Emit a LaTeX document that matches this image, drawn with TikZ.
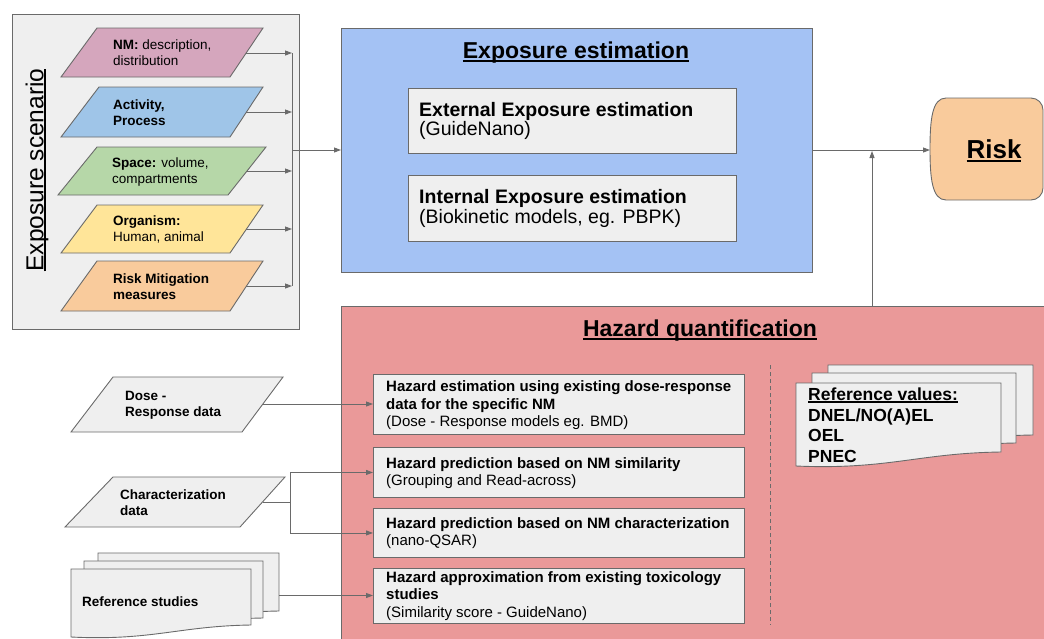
\documentclass[tikz,border=0pt]{standalone}
\usepackage{fontspec}
\setmainfont{Liberation Sans}
\usetikzlibrary{arrows.meta}
\definecolor{edge}{HTML}{6A6A6A}
\definecolor{lgrey}{HTML}{EFEFEF}
\definecolor{cpink}{HTML}{D5A6BD}
\definecolor{cblueL}{HTML}{9FC5E8}
\definecolor{cgreen}{HTML}{B6D7A8}
\definecolor{cyellow}{HTML}{FFE599}
\definecolor{corange}{HTML}{F9CB9C}
\definecolor{cblue}{HTML}{A4C2F4}
\definecolor{cred}{HTML}{EA9999}
\newcommand\myul[1]{\setbox0\hbox{#1}\rlap{\rule[-0.12em]{\wd0}{0.075em}}\box0}
\begin{document}
\begin{tikzpicture}[x=1pt,y=-1pt,
  outl/.style={draw=edge, line width=0.9pt},
  greybox/.style={outl, fill=lgrey, rectangle, inner sep=0pt, anchor=north west},
  conn/.style={draw=edge, line width=0.9pt, -{Triangle[length=7pt,width=5pt]}},
  plain/.style={draw=edge, line width=0.9pt},
  txt/.style={inner sep=0pt, align=left, anchor=west},
  small/.style={txt, font=\fontsize{13.5}{16}\selectfont},
  hz/.style={txt, font=\fontsize{15}{17.5}\selectfont},
  big/.style={txt, font=\fontsize{19.5}{19.5}\selectfont},
  ttl/.style={inner sep=0pt, font=\bfseries\fontsize{23}{26}\selectfont}]
\useasboundingbox (0,0) rectangle (1044,638);

% ---------- Exposure scenario ----------
\node[greybox, minimum width=287, minimum height=315] (scen) at (12,14) {};
\node[inner sep=0pt, rotate=90, font=\fontsize{24.5}{28}\selectfont] (scentitle) at (37,170) {\myul{Exposure scenario}};

\draw[outl, fill=cpink]   (97,28) -- (263,28) -- (230,77) -- (61,77) -- cycle;
\draw[outl, fill=cblueL]  (99,87) -- (263,87) -- (230,137) -- (61,137) -- cycle;
\draw[outl, fill=cgreen]  (97,147) -- (266,147) -- (228,195) -- (58,195) -- cycle;
\draw[outl, fill=cyellow] (97,205) -- (263,205) -- (230,253) -- (61,253) -- cycle;
\draw[outl, fill=corange] (97,261) -- (263,261) -- (230,311) -- (61,311) -- cycle;
\coordinate (nm-e) at (246,53);
\coordinate (act-e) at (246,112);
\coordinate (spc-e) at (247,171);
\coordinate (org-e) at (246,229);
\coordinate (rm-e) at (246,286);

\node[small] (nmt)  at (113,53)  {\textbf{NM:} description,\\distribution};
\node[small] (actt) at (113,113) {\textbf{Activity,}\\\textbf{Process}};
\node[small] (spct) at (112,172) {\textbf{Space:} volume,\\compartments};
\node[small] (orgt) at (113,229) {\textbf{Organism:}\\Human, animal};
\node[small] (rmt)  at (113,287) {\textbf{Risk Mitigation}\\\textbf{measures}};

\coordinate (bar) at (292,150);
\draw[conn] (nm-e) -- (nm-e -| bar);
\draw[conn] (act-e) -- (act-e -| bar);
\draw[conn] (spc-e) -- (spc-e -| bar);
\draw[conn] (org-e) -- (org-e -| bar);
\draw[conn] (rm-e) -- (rm-e -| bar);
\draw[plain] (nm-e -| bar) -- (rm-e -| bar);

% ---------- Exposure estimation ----------
\node[outl, fill=cblue, rectangle, inner sep=0pt, anchor=north west, minimum width=471, minimum height=244] (expo) at (341,28) {};
\draw[conn] (bar) -- (bar -| expo.west);
\node[ttl] (expot) at (576,53) {\myul{Exposure estimation}};
\node[greybox, minimum width=328, minimum height=65] (ext) at (408,88) {};
\node[greybox, minimum width=328, minimum height=66] (int) at (408,175) {};
\node[big] (extt) at ([xshift=11pt]ext.west) {\textbf{External Exposure estimation}\\(GuideNano)};
\node[big] (intt) at ([xshift=11pt]int.west) {\textbf{Internal Exposure estimation}\\(Biokinetic models, eg. PBPK)};

% ---------- Risk ----------
\draw[outl, fill=corange] (946,98) -- (1031,98) arc[start angle=-90, end angle=0, radius=12] -- (1043,188) arc[start angle=0, end angle=90, radius=12] -- (946,200) .. controls (932,200) and (930,178) .. (930,149) .. controls (930,120) and (932,98) .. (946,98) -- cycle;
\coordinate (riskw) at (930,150);
\node[inner sep=0pt, font=\bfseries\fontsize{26}{30}\selectfont] (risk) at (994,151) {\myul{Risk}};
\draw[conn] (expo.east |- riskw) -- (riskw);

% ---------- Hazard quantification ----------
\node[outl, fill=cred, rectangle, inner sep=0pt, anchor=north west, minimum width=710, minimum height=340] (haz) at (341,306) {};
\coordinate (merge) at (872,151);
\draw[conn] (merge |- haz.north) -- (merge);
\node[ttl] (hazt) at (700,331) {\myul{Hazard quantification}};
\draw[edge, line width=0.9pt, dash pattern=on 4pt off 3pt] (770,365) -- (770,625);

\node[greybox, minimum width=371, minimum height=60] (h1) at (373,374) {};
\node[greybox, minimum width=371, minimum height=50] (h2) at (373,447) {};
\node[greybox, minimum width=371, minimum height=49] (h3) at (373,508) {};
\node[greybox, minimum width=371, minimum height=55] (h4) at (373,568) {};
\node[hz] (h1t) at (386,405.5) {\textbf{Hazard estimation using existing dose-response}\\\textbf{data for the specific NM}\\(Dose - Response models eg. BMD)};
\node[hz] (h2t) at (386,473) {\textbf{Hazard prediction based on NM similarity}\\(Grouping and Read-across)};
\node[hz] (h3t) at (386,533) {\textbf{Hazard prediction based on NM characterization}\\(nano-QSAR)};
\node[hz] (h4t) at (386,596) {\textbf{Hazard approximation from existing toxicology}\\\textbf{studies}\\(Similarity score - GuideNano)};

% Reference values documents
\draw[outl, fill=lgrey] (828,365) -- (1033,365) -- (1033,435) .. controls (951,436) and (920,453) .. (828,449) -- cycle;
\draw[outl, fill=lgrey] (812,373) -- (1016,373) -- (1016,443) .. controls (934,444) and (904,461) .. (812,457) -- cycle;
\draw[outl, fill=lgrey] (796,383) -- (1001,383) -- (1001,452) .. controls (919,453) and (888,470) .. (796,466) -- cycle;
\node[txt, font=\bfseries\fontsize{17.5}{20.5}\selectfont] (refv) at (808,425) {\myul{Reference values:}\\DNEL/NO(A)EL\\OEL\\PNEC};

% ---------- Inputs ----------
\draw[outl, fill=lgrey] (113,377) -- (283,377) -- (242,432) -- (71,432) -- cycle;
\coordinate (dose-e) at (262.5,404);
\node[small, font=\bfseries\fontsize{13.5}{16}\selectfont] (doset) at (125,405) {Dose -\\Response data};
\draw[conn] (dose-e) -- (dose-e -| h1.west);

\draw[outl, fill=lgrey] (113,477) -- (285,477) -- (240,527) -- (65,527) -- cycle;
\coordinate (char-e) at (262.5,502);
\node[small, font=\bfseries\fontsize{13.5}{16}\selectfont] (chart) at (120,502.5) {Characterization\\data};
\coordinate (cj) at (290,502);
\draw[conn] (char-e) -- (cj) |- (h2.west);
\draw[conn] (cj) |- (h3.west);

\draw[outl, fill=lgrey] (98,553) -- (279,553) -- (279,611) .. controls (207,612) and (180,627) .. (98,623) -- cycle;
\draw[outl, fill=lgrey] (84,561) -- (263,561) -- (263,618) .. controls (191,619) and (165,634) .. (84,630) -- cycle;
\draw[outl, fill=lgrey] (71,569) -- (251,569) -- (251,625) .. controls (179,626) and (152,641) .. (71,637) -- cycle;
\coordinate (refs-e) at (279,595.5);
\node[small, font=\bfseries\fontsize{13.5}{16}\selectfont] (refst) at (82,602) {Reference studies};
\draw[conn] (refs-e) -- (refs-e -| h4.west);
\end{tikzpicture}
\end{document}
